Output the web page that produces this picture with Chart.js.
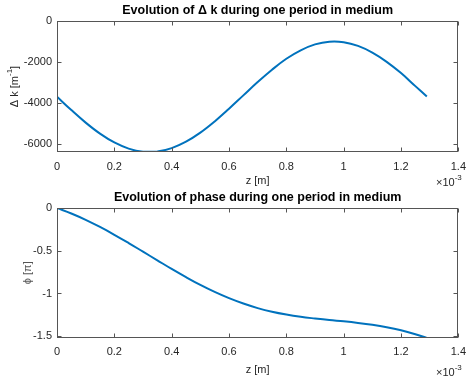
<!DOCTYPE html>
<html><head><meta charset="utf-8">
<script src="https://cdn.jsdelivr.net/npm/chart.js@4/dist/chart.umd.min.js"></script>
<style>
body{margin:0;background:#fff;width:474px;height:381px;overflow:hidden;position:relative}
canvas{position:absolute;left:0}
</style></head><body>
<canvas id="c1" width="474" height="190" style="top:0"></canvas>
<canvas id="c2" width="474" height="191" style="top:190px"></canvas>
<script>
// z positions (x 1e-3 m)
const zVals = [0,0.05,0.1,0.15,0.2,0.25,0.3,0.35,0.4,0.45,0.5,0.55,0.6,0.65,0.7,0.75,0.8,0.85,0.9,0.95,1.0,1.05,1.1,1.15,1.2,1.25,1.29];
// Delta k [m^-1]
const dkVals = [-3700,-4351,-4964,-5502,-5934,-6233,-6384,-6376,-6210,-5896,-5453,-4906,-4286,-3634,-2985,-2380,-1845,-1432,-1144,-1010,-1035,-1217,-1544,-1994,-2543,-3182,-3690];
// phase [pi]
const phiVals = [0,-0.064,-0.138,-0.222,-0.313,-0.410,-0.511,-0.612,-0.713,-0.809,-0.900,-0.982,-1.055,-1.118,-1.171,-1.214,-1.247,-1.273,-1.293,-1.311,-1.326,-1.344,-1.366,-1.394,-1.430,-1.476,-1.519];
// tick values
const xTickVals = [0,0.2,0.4,0.6,0.8,1,1.2,1.4];
const dkTickVals = [-6000,-4000,-2000,0];
const phiTickVals = [-1.5,-1,-0.5,0];

const FONT = '"Liberation Sans", Arial, Helvetica, sans-serif';
const AX = '#262626';

function richText(ctx, parts, x, y, align){
  let w = 0;
  parts.forEach(p => { ctx.font = p.sup ? '8px '+FONT : '11px '+FONT; p.w = ctx.measureText(p.t).width; w += p.w; });
  let cx = align === 'center' ? x - w/2 : x;
  parts.forEach(p => {
    ctx.font = p.sup ? '8px '+FONT : '11px '+FONT;
    ctx.textAlign = 'left';
    ctx.fillText(p.t, cx, p.sup ? y - 5 : y);
    cx += p.w;
  });
}

function framePlugin(cfg){
  return {
    id: 'frame',
    afterDatasetsDraw(chart){
      const ctx = chart.ctx, a = chart.chartArea, xs = chart.scales.x, ys = chart.scales.y;
      ctx.save();
      const L = Math.round(a.left)+0.5, R = Math.round(a.right)-0.5, T = Math.round(a.top)+0.5, B = Math.round(a.bottom)-0.5;
      ctx.strokeStyle = '#555';
      ctx.lineWidth = 1;
      ctx.strokeRect(L, T, R-L, B-T);
      ctx.beginPath();
      cfg.xTicks.forEach(v => {
        const px = Math.round(xs.getPixelForValue(v))+0.5;
        ctx.moveTo(px, B); ctx.lineTo(px, B-4);
        ctx.moveTo(px, T); ctx.lineTo(px, T+4);
      });
      cfg.yTicks.forEach(v => {
        const py = Math.round(ys.getPixelForValue(v))+0.5;
        ctx.moveTo(L, py); ctx.lineTo(L+4, py);
        ctx.moveTo(R, py); ctx.lineTo(R-4, py);
      });
      ctx.stroke();
      ctx.fillStyle = '#000';
      ctx.font = 'bold 12.5px '+FONT;
      ctx.textAlign = 'center';
      ctx.textBaseline = 'middle';
      ctx.fillText(cfg.title, (a.left+a.right)/2, a.top - 10);
      ctx.fillStyle = AX;
      ctx.font = '11px '+FONT;
      ctx.fillText('z [m]', (a.left+a.right)/2, a.bottom + cfg.xlabOff);
      richText(ctx, [{t:'\u00d710'},{t:'-3',sup:true}], 436, a.bottom + cfg.expOff, 'left');
      ctx.save();
      ctx.translate(cfg.ylabX, (a.top+a.bottom)/2);
      ctx.rotate(-Math.PI/2);
      ctx.fillStyle = cfg.ylabColor;
      richText(ctx, cfg.ylab, 0, 0, 'center');
      ctx.restore();
      ctx.restore();
    }
  };
}

function makeChart(id, yVals, yMin, yMax, yTicks, padTop, xHeight, plug){
  return new Chart(document.getElementById(id), {
    type: 'line',
    data: { datasets: [{
      data: zVals.map((z,i)=>({x:z, y:yVals[i]})),
      borderColor: '#0072BD', borderWidth: 2, pointRadius: 0, tension: 0.4, fill: false
    }]},
    options: {
      responsive: false, animation: false, devicePixelRatio: 1,
      layout: { padding: { left: 0, right: 8, top: padTop, bottom: 0 } },
      plugins: { legend: { display: false }, tooltip: { enabled: false }, title: { display: false } },
      scales: {
        x: {
          type: 'linear', min: 0, max: 1.4,
          afterBuildTicks: s => { s.ticks = xTickVals.map(v => ({value: v})); },
          afterFit: s => { s.height = xHeight; },
          grid: { display: false, drawTicks: false }, border: { display: false },
          ticks: { padding: 8, color: AX, font: { family: FONT, size: 11 }, maxRotation: 0, autoSkip: false, callback: v => String(v) }
        },
        y: {
          type: 'linear', min: yMin, max: yMax,
          afterBuildTicks: s => { s.ticks = yTicks.map(v => ({value: v})); },
          afterFit: s => { s.width = 57; },
          grid: { display: false, drawTicks: false }, border: { display: false },
          ticks: { padding: 5, color: AX, font: { family: FONT, size: 11 }, autoSkip: false, callback: v => String(v) }
        }
      }
    },
    plugins: [plug]
  });
}

makeChart('c1', dkVals, -6400, 0, dkTickVals, 21, 38, framePlugin({
  title: 'Evolution of \u0394 k during one period in medium',
  xTicks: xTickVals, yTicks: dkTickVals, xlabOff: 29, expOff: 31,
  ylabX: 15, ylabColor: AX,
  ylab: [{t:'\u0394 k [m'},{t:'-1',sup:true},{t:']'}]
}));
makeChart('c2', phiVals, -1.515, 0, phiTickVals, 18, 43.5, framePlugin({
  title: 'Evolution of phase during one period in medium',
  xTicks: xTickVals, yTicks: phiTickVals, xlabOff: 32.5, expOff: 35,
  ylabX: 28, ylabColor: '#555',
  ylab: [{t:'\u03d5 [\u03c0]'}]
}));
</script>
</body></html>
